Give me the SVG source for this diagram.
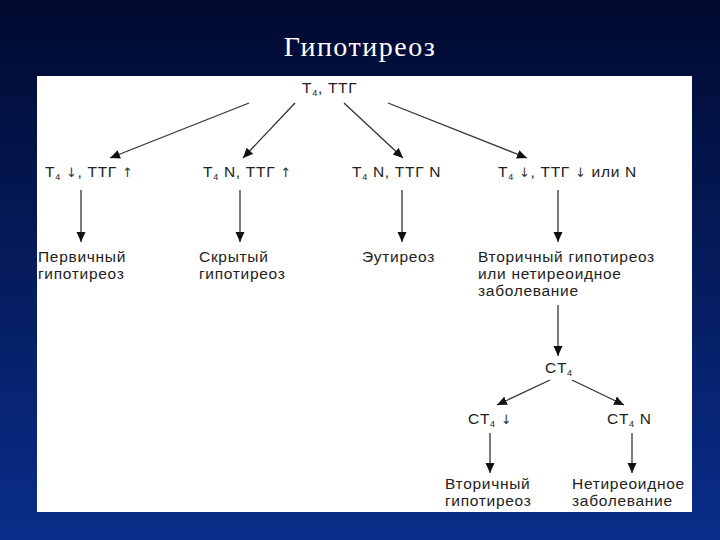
<svg xmlns="http://www.w3.org/2000/svg" width="720" height="540" viewBox="0 0 720 540">
<defs>
<linearGradient id="bg" x1="0" y1="0" x2="0" y2="1"><stop offset="0" stop-color="#000a30"/><stop offset="1" stop-color="#0a2d8a"/></linearGradient>
<marker id="ah" markerWidth="10" markerHeight="12" refX="10" refY="5" orient="auto" markerUnits="userSpaceOnUse"><path d="M0,0.5 L10,5 L0,9.5 Z" fill="#111"/></marker>
<style>
text{font-family:"Liberation Sans",Arial,sans-serif;font-size:15.5px;letter-spacing:0.7px;fill:#222}
.t{font-family:"Liberation Serif","Times New Roman",serif;font-size:28px;letter-spacing:1.5px;fill:#fff}
.s{font-size:9px}
.a{font-family:"DejaVu Sans",sans-serif;font-size:13px;fill:#333}
line{stroke:#333;stroke-width:1.3;marker-end:url(#ah)}
</style>
</defs>
<rect width="720" height="540" fill="url(#bg)"/>
<text class="t" x="360" y="56" text-anchor="middle">Гипотиреоз</text>
<rect x="37" y="76" width="655" height="436" fill="#fff"/>
<g id="connectors">
<line x1="249" y1="103" x2="110" y2="158"/>
<line x1="295" y1="103" x2="243" y2="158"/>
<line x1="344" y1="103" x2="403" y2="158"/>
<line x1="388" y1="103" x2="527" y2="158"/>
<line x1="81" y1="190" x2="81" y2="242"/>
<line x1="240" y1="190" x2="240" y2="242"/>
<line x1="402" y1="190" x2="402" y2="242"/>
<line x1="558" y1="190" x2="558" y2="242"/>
<line x1="558" y1="305" x2="558" y2="356"/>
<line x1="550" y1="380" x2="497" y2="405"/>
<line x1="572" y1="380" x2="624" y2="405"/>
<line x1="490" y1="433" x2="490" y2="473"/>
<line x1="632" y1="433" x2="632" y2="473"/>
</g>
<g id="root"><text x="302" y="93">T<tspan class="s" dy="3">4</tspan><tspan dy="-3">, ТТГ</tspan></text></g>
<g id="n1"><text x="45" y="177">T<tspan class="s" dy="3">4</tspan><tspan dy="-3"> <tspan class="a">↓</tspan>, ТТГ <tspan class="a">↑</tspan></tspan></text></g>
<g id="n2"><text x="203" y="177">T<tspan class="s" dy="3">4</tspan><tspan dy="-3"> N, ТТГ <tspan class="a">↑</tspan></tspan></text></g>
<g id="n3"><text x="352" y="177">T<tspan class="s" dy="3">4</tspan><tspan dy="-3"> N, ТТГ N</tspan></text></g>
<g id="n4"><text x="498" y="177">T<tspan class="s" dy="3">4</tspan><tspan dy="-3"> <tspan class="a">↓</tspan>, ТТГ <tspan class="a">↓</tspan> или N</tspan></text></g>
<g id="r1"><text x="38" y="262">Первичный</text><text x="38" y="279">гипотиреоз</text></g>
<g id="r2"><text x="199" y="262">Скрытый</text><text x="199" y="279">гипотиреоз</text></g>
<g id="r3"><text x="362" y="262">Эутиреоз</text></g>
<g id="r4"><text x="478" y="262">Вторичный гипотиреоз</text><text x="478" y="279">или нетиреоидное</text><text x="478" y="296">заболевание</text></g>
<g id="ct"><text x="545" y="373">CT<tspan class="s" dy="3">4</tspan></text></g>
<g id="ct1"><text x="468" y="424">CT<tspan class="s" dy="3">4</tspan><tspan dy="-3"> <tspan class="a">↓</tspan></tspan></text></g>
<g id="ct2"><text x="607" y="424">CT<tspan class="s" dy="3">4</tspan><tspan dy="-3"> N</tspan></text></g>
<g id="f1"><text x="445" y="489">Вторичный</text><text x="445" y="506">гипотиреоз</text></g>
<g id="f2"><text x="572" y="489">Нетиреоидное</text><text x="572" y="506">заболевание</text></g>
</svg>
